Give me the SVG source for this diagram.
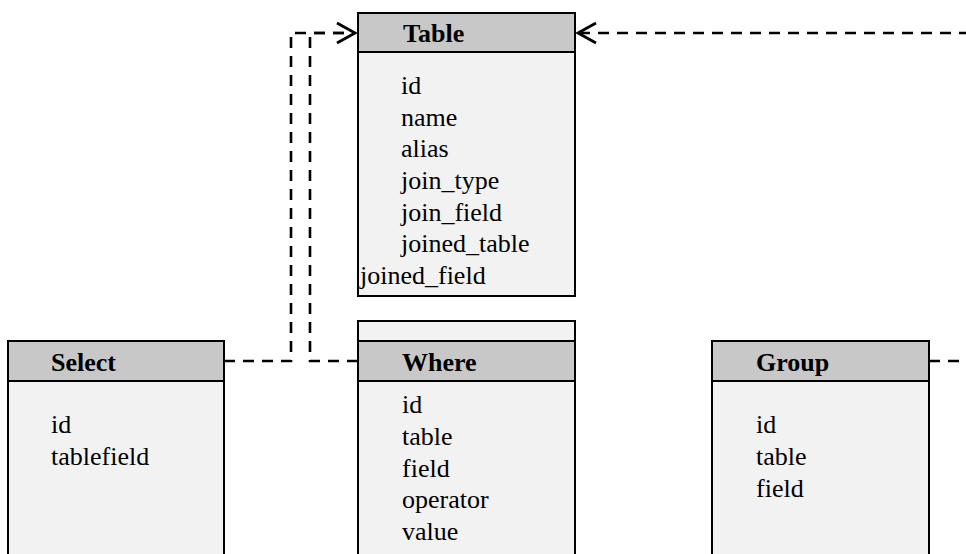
<svg xmlns="http://www.w3.org/2000/svg" width="966" height="554" viewBox="0 0 966 554">
  <style>
    .body { fill: #f2f2f2; stroke: #000; stroke-width: 2; }
    .head { fill: #c8c8c8; stroke: #000; stroke-width: 2; }
    .title { font-family: "Liberation Serif", "Times New Roman", serif; font-size: 26px; font-weight: bold; fill: #000; }
    .field { font-family: "Liberation Serif", "Times New Roman", serif; font-size: 26px; fill: #000; }
    .conn { fill: none; stroke: #000; stroke-width: 2.6; stroke-dasharray: 11 8; }
  </style>
  <defs>
    <marker id="arrow" markerUnits="userSpaceOnUse" markerWidth="24" markerHeight="24" viewBox="-20 -12 24 24" refX="0" refY="0" orient="auto">
      <path d="M-18,-10 L0,0 L-18,10" fill="none" stroke="#000" stroke-width="2.8" stroke-dasharray="none"/>
    </marker>
  </defs>
  <rect width="966" height="554" fill="#fff"/>

  <g id="connectors">
    <path class="conn" d="M224,361 H291 V33 H355" marker-end="url(#arrow)"/>
    <path class="conn" d="M358,361 H310 V33 H355"/>
    <path class="conn" d="M929,361 H985 V33 H578" marker-end="url(#arrow)"/>
  </g>

  <g id="table">
    <rect class="body" x="358" y="13" width="217" height="283"/>
    <rect class="head" x="358" y="13" width="217" height="39"/>
    <text class="title" x="403" y="42">Table</text>
    <text class="field" x="401" y="94">id</text>
    <text class="field" x="401" y="126">name</text>
    <text class="field" x="401" y="157">alias</text>
    <text class="field" x="401" y="189">join_type</text>
    <text class="field" x="401" y="221">join_field</text>
    <text class="field" x="401" y="252">joined_table</text>
    <text class="field" x="360" y="284">joined_field</text>
  </g>

  <g id="select">
    <rect class="body" x="8" y="341" width="216" height="220"/>
    <rect class="head" x="8" y="341" width="216" height="40"/>
    <text class="title" x="51" y="371">Select</text>
    <text class="field" x="51" y="433">id</text>
    <text class="field" x="51" y="465">tablefield</text>
  </g>

  <g id="where">
    <rect class="body" x="358" y="321" width="217" height="240"/>
    <rect class="head" x="358" y="341" width="217" height="40"/>
    <text class="title" x="402" y="371">Where</text>
    <text class="field" x="402" y="413">id</text>
    <text class="field" x="402" y="445">table</text>
    <text class="field" x="402" y="477">field</text>
    <text class="field" x="402" y="508">operator</text>
    <text class="field" x="402" y="540">value</text>
  </g>

  <g id="group">
    <rect class="body" x="712" y="341" width="217" height="220"/>
    <rect class="head" x="712" y="341" width="217" height="40"/>
    <text class="title" x="756" y="371">Group</text>
    <text class="field" x="756" y="433">id</text>
    <text class="field" x="756" y="465">table</text>
    <text class="field" x="756" y="497">field</text>
  </g>
</svg>
